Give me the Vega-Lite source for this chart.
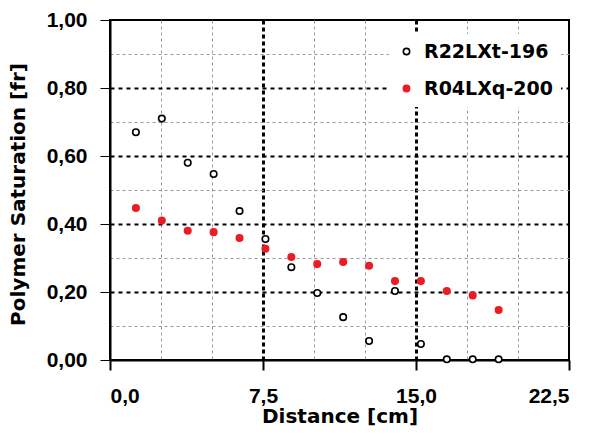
{
  "$schema": "https://vega.github.io/schema/vega-lite/v6.json",
  "autosize": "none",
  "width": 459,
  "height": 340,
  "padding": {"left": 110, "top": 20, "right": 25, "bottom": 74},
  "background": "white",
  "config": {
    "view": {"stroke": "black", "strokeWidth": 2},
    "axis": {
      "domainColor": "black",
      "domainWidth": 2,
      "tickColor": "black",
      "tickWidth": 1,
      "tickSize": 10,
      "labelFont": "Liberation Sans",
      "labelFontWeight": "bold",
      "labelFontSize": 21,
      "labelColor": "black",
      "titleFont": "DejaVu Sans",
      "titleFontWeight": "bold",
      "titleFontSize": 20,
      "titleColor": "black"
    }
  },
  "data": {
    "values": [
      {"distance": 1.27, "saturation": 0.67, "series": "R22LXt-196"},
      {"distance": 2.54, "saturation": 0.71, "series": "R22LXt-196"},
      {"distance": 3.81, "saturation": 0.58, "series": "R22LXt-196"},
      {"distance": 5.08, "saturation": 0.547, "series": "R22LXt-196"},
      {"distance": 6.35, "saturation": 0.438, "series": "R22LXt-196"},
      {"distance": 7.62, "saturation": 0.356, "series": "R22LXt-196"},
      {"distance": 8.89, "saturation": 0.273, "series": "R22LXt-196"},
      {"distance": 10.16, "saturation": 0.197, "series": "R22LXt-196"},
      {"distance": 11.43, "saturation": 0.126, "series": "R22LXt-196"},
      {"distance": 12.7, "saturation": 0.056, "series": "R22LXt-196"},
      {"distance": 13.97, "saturation": 0.203, "series": "R22LXt-196"},
      {"distance": 15.24, "saturation": 0.047, "series": "R22LXt-196"},
      {"distance": 16.51, "saturation": 0.002, "series": "R22LXt-196"},
      {"distance": 17.78, "saturation": 0.002, "series": "R22LXt-196"},
      {"distance": 19.05, "saturation": 0.002, "series": "R22LXt-196"},
      {"distance": 1.27, "saturation": 0.447, "series": "R04LXq-200"},
      {"distance": 2.54, "saturation": 0.41, "series": "R04LXq-200"},
      {"distance": 3.81, "saturation": 0.38, "series": "R04LXq-200"},
      {"distance": 5.08, "saturation": 0.376, "series": "R04LXq-200"},
      {"distance": 6.35, "saturation": 0.359, "series": "R04LXq-200"},
      {"distance": 7.62, "saturation": 0.327, "series": "R04LXq-200"},
      {"distance": 8.89, "saturation": 0.303, "series": "R04LXq-200"},
      {"distance": 10.16, "saturation": 0.282, "series": "R04LXq-200"},
      {"distance": 11.43, "saturation": 0.288, "series": "R04LXq-200"},
      {"distance": 12.7, "saturation": 0.277, "series": "R04LXq-200"},
      {"distance": 13.97, "saturation": 0.232, "series": "R04LXq-200"},
      {"distance": 15.24, "saturation": 0.232, "series": "R04LXq-200"},
      {"distance": 16.51, "saturation": 0.203, "series": "R04LXq-200"},
      {"distance": 17.78, "saturation": 0.19, "series": "R04LXq-200"},
      {"distance": 19.05, "saturation": 0.147, "series": "R04LXq-200"}
    ]
  },
  "mark": {"type": "point", "shape": "circle", "filled": false, "size": 42, "strokeWidth": 1.6, "opacity": 1},
  "encoding": {
    "x": {
      "field": "distance",
      "type": "quantitative",
      "title": "Distance [cm]",
      "scale": {"domain": [0, 22.5], "nice": false, "zero": false},
      "axis": {
        "values": [0, 2.5, 5, 7.5, 10, 12.5, 15, 17.5, 20, 22.5],
        "labelExpr": "abs(datum.value / 7.5 - round(datum.value / 7.5)) < 1e-6 ? replace(format(datum.value, '.1f'), '.', ',') : ''",
        "labelPadding": 15,
        "titlePadding": 0,
        "grid": true,
        "gridColor": {"condition": {"test": "datum.value == 7.5 || datum.value == 15", "value": "black"}, "value": "#9a9a9a"},
        "gridDash": {"condition": {"test": "datum.value == 7.5 || datum.value == 15", "value": [4, 3]}, "value": [3, 3]},
        "gridWidth": {"condition": {"test": "datum.value == 7.5 || datum.value == 15", "value": 3}, "value": 1},
        "gridOpacity": {"condition": {"test": "datum.value == 0 || datum.value == 22.5", "value": 0}, "value": 1},
        "tickOpacity": {"condition": {"test": "abs(datum.value / 7.5 - round(datum.value / 7.5)) < 1e-6", "value": 1}, "value": 0},
        "tickWidth": 2
      }
    },
    "y": {
      "field": "saturation",
      "type": "quantitative",
      "title": "Polymer Saturation [fr]",
      "scale": {"domain": [0, 1], "nice": false},
      "axis": {
        "values": [0, 0.1, 0.2, 0.3, 0.4, 0.5, 0.6, 0.7, 0.8, 0.9, 1.0],
        "labelExpr": "abs(datum.value * 5 - round(datum.value * 5)) < 1e-6 ? replace(format(datum.value, '.2f'), '.', ',') : ''",
        "labelPadding": 13,
        "titlePadding": 18,
        "titleY": 174,
        "grid": true,
        "gridColor": {"condition": {"test": "abs(datum.value * 5 - round(datum.value * 5)) < 1e-6", "value": "black"}, "value": "#9a9a9a"},
        "gridDash": {"condition": {"test": "abs(datum.value * 5 - round(datum.value * 5)) < 1e-6", "value": [4, 4]}, "value": [3, 3]},
        "gridWidth": {"condition": {"test": "abs(datum.value * 5 - round(datum.value * 5)) < 1e-6", "value": 2}, "value": 1},
        "gridOpacity": {"condition": {"test": "datum.value < 0.01 || datum.value > 0.99", "value": 0}, "value": 1},
        "tickOpacity": {"condition": {"test": "abs(datum.value * 5 - round(datum.value * 5)) < 1e-6", "value": 1}, "value": 0}
      }
    },
    "stroke": {
      "field": "series",
      "type": "nominal",
      "title": null,
      "scale": {"domain": ["R22LXt-196", "R04LXq-200"], "range": ["black", "#ec1c24"]},
      "legend": {
        "orient": "none",
        "legendX": 279,
        "legendY": 14,
        "fillColor": "white",
        "padding": 8,
        "labelFont": "DejaVu Sans",
        "labelFontWeight": "bold",
        "labelFontSize": 19,
        "labelColor": "black",
        "labelOffset": 8,
        "rowPadding": 17,
        "symbolSize": 40,
        "symbolStrokeWidth": 1.6
      }
    },
    "fill": {
      "field": "series",
      "type": "nominal",
      "title": null,
      "scale": {"domain": ["R22LXt-196", "R04LXq-200"], "range": ["white", "#ec1c24"]}
    }
  }
}
